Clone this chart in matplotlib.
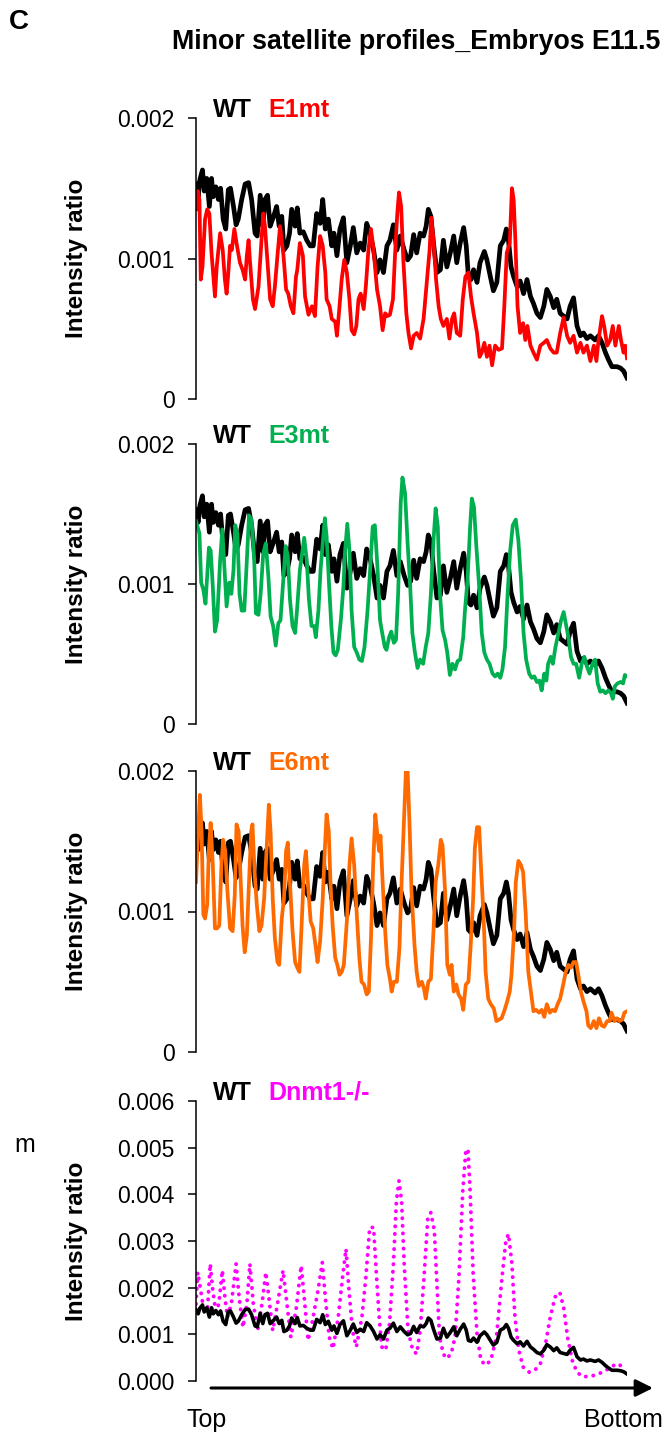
import numpy as np
import matplotlib
matplotlib.use("Agg")
import matplotlib.pyplot as plt

plt.rcParams["font.family"] = ["Liberation Sans", "DejaVu Sans"]

FIG_W, FIG_H = 671, 1447

# position along the profile (% of length from top) and intensity ratio (x 1e-3)
wt_pos = [0, 0.5, 0.9, 1.5, 1.9, 2.5, 3.1, 3.6, 4.0, 4.6,
          5.2, 5.7, 6.3, 6.9, 7.5, 8.0, 8.7, 9.3, 9.8, 10.6,
          11.4, 12.2, 12.9, 13.7, 14.2, 14.9, 15.5, 16.0, 16.6, 17.2,
          18.0, 18.7, 19.3, 19.9, 20.4, 21.1, 21.7, 22.2, 23.0, 23.5,
          24.1, 24.9, 25.7, 26.5, 27.2, 28.0, 28.8, 29.4, 30.0, 30.7,
          31.5, 32.0, 32.7, 33.4, 34.2, 35.0, 35.8, 36.5, 37.3, 38.1,
          38.9, 39.6, 40.4, 41.2, 42.0, 42.7, 43.5, 44.3, 45.0, 45.8,
          46.6, 47.4, 48.3, 49.1, 49.8, 50.5, 51.2, 52.0, 52.8, 53.4,
          53.9, 54.5, 55.1, 55.9, 56.7, 57.4, 58.2, 59.0, 59.8, 60.5,
          61.3, 62.1, 62.7, 63.2, 63.8, 64.4, 65.2, 65.9, 66.9, 67.5,
          68.3, 69.0, 69.8, 70.6, 71.4, 72.0, 72.5, 73.1, 73.7, 74.5,
          75.2, 76.0, 76.8, 77.6, 78.3, 79.1, 79.9, 80.7, 81.4, 82.2,
          83.0, 83.7, 84.5, 85.3, 86.1, 86.8, 87.6, 88.4, 89.2, 89.9,
          90.7, 91.5, 92.6, 93.4, 94.2, 95.0, 95.7, 96.5, 97.7, 98.5,
          99.2, 100]
wt_val = [1.53, 1.44, 1.56, 1.63, 1.48, 1.57, 1.37, 1.57, 1.44, 1.51,
          1.42, 1.50, 1.28, 1.21, 1.49, 1.50, 1.37, 1.24, 1.28, 1.42,
          1.53, 1.54, 1.42, 1.18, 1.16, 1.45, 1.23, 1.42, 1.45, 1.23,
          1.30, 1.37, 1.23, 1.30, 1.06, 1.09, 1.18, 1.35, 1.23, 1.36,
          1.18, 1.19, 1.13, 1.09, 1.09, 1.32, 1.25, 1.42, 1.21, 1.28,
          1.09, 1.18, 1.02, 1.21, 1.29, 0.97, 1.09, 1.22, 1.04, 1.11,
          1.06, 1.25, 1.18, 1.06, 0.90, 0.99, 0.90, 1.09, 1.13, 1.24,
          1.06, 1.16, 1.06, 0.99, 1.02, 1.17, 1.04, 1.18, 1.16, 1.23,
          1.35, 1.30, 1.11, 0.90, 0.92, 1.13, 0.94, 1.04, 1.16, 0.97,
          1.11, 1.22, 1.09, 0.87, 0.85, 0.92, 0.83, 0.97, 1.05, 0.99,
          0.87, 0.77, 0.83, 1.09, 1.13, 1.21, 1.13, 0.94, 0.87, 0.80,
          0.84, 0.75, 0.85, 0.73, 0.68, 0.61, 0.58, 0.66, 0.78, 0.73,
          0.65, 0.71, 0.61, 0.59, 0.57, 0.66, 0.72, 0.52, 0.45, 0.47,
          0.43, 0.45, 0.42, 0.45, 0.40, 0.33, 0.28, 0.23, 0.23, 0.22,
          0.20, 0.15]

e1_pos = [0, 0.4, 0.8, 1.1, 1.5, 2.1, 2.6, 3.1, 3.6, 4.4,
          4.8, 5.6, 6.2, 6.7, 7.1, 7.5, 7.9, 8.3, 8.9, 9.4,
          10.2, 10.8, 11.4, 11.8, 12.2, 12.5, 13.2, 13.7, 14.5, 14.9,
          15.6, 16.0, 16.6, 17.2, 17.8, 18.3, 18.9, 19.5, 20.3, 20.9,
          21.4, 22.0, 22.6, 23.2, 23.5, 24.1, 24.8, 25.3, 26.1, 26.9,
          27.6, 28.2, 28.8, 29.4, 30.0, 30.3, 31.0, 31.5, 32.3, 32.7,
          33.3, 33.8, 34.4, 35.0, 35.6, 36.1, 36.7, 37.2, 37.7, 38.2,
          38.9, 39.4, 40.0, 40.6, 41.2, 42.0, 42.7, 43.3, 43.9, 44.4,
          45.0, 45.7, 46.2, 46.7, 47.1, 47.6, 48.1, 48.8, 49.3, 49.9,
          50.5, 51.2, 52.0, 52.8, 53.6, 54.2, 54.6, 55.1, 55.7, 56.3,
          56.8, 57.4, 58.2, 58.8, 59.4, 59.9, 60.5, 61.3, 61.9, 62.5,
          63.2, 63.8, 64.4, 65.2, 65.8, 66.3, 66.9, 67.5, 68.1, 68.7,
          69.4, 70.2, 71.0, 71.5, 72.1, 72.8, 73.3, 73.7, 74.1, 74.6,
          75.2, 75.9, 76.4, 76.9, 77.6, 78.3, 79.1, 79.9, 80.7, 81.4,
          82.2, 83.0, 83.7, 84.5, 85.3, 86.1, 86.8, 87.6, 88.4, 89.2,
          89.9, 90.7, 91.5, 92.3, 92.9, 93.4, 94.2, 94.7, 95.4, 96.1,
          96.7, 97.3, 98.1, 98.6, 99.2, 99.6, 100]
e1_val = [1.35, 1.48, 1.42, 0.85, 0.94, 1.28, 1.35, 1.32, 1.04, 0.73,
          0.94, 1.18, 1.06, 0.85, 0.75, 0.90, 1.09, 1.06, 1.21, 1.11,
          0.97, 0.92, 0.85, 1.02, 1.13, 0.99, 0.71, 0.64, 0.80, 0.99,
          1.32, 1.23, 0.97, 0.71, 0.66, 0.80, 1.02, 1.23, 1.02, 0.78,
          0.75, 0.66, 0.61, 0.87, 0.92, 1.11, 1.02, 0.73, 0.60, 0.66,
          0.59, 0.94, 1.16, 1.09, 0.90, 0.71, 0.66, 0.57, 0.55, 0.45,
          0.66, 0.85, 0.99, 0.90, 0.71, 0.49, 0.46, 0.52, 0.71, 0.75,
          0.64, 0.80, 1.06, 1.21, 1.06, 0.78, 0.66, 0.49, 0.61, 0.59,
          0.60, 0.71, 1.04, 1.32, 1.47, 1.37, 0.99, 0.61, 0.47, 0.36,
          0.45, 0.47, 0.43, 0.57, 0.85, 1.06, 1.29, 1.13, 0.85, 0.66,
          0.57, 0.52, 0.57, 0.43, 0.57, 0.61, 0.47, 0.45, 0.71, 0.87,
          0.90, 0.73, 0.61, 0.47, 0.30, 0.33, 0.40, 0.30, 0.38, 0.24,
          0.38, 0.35, 0.36, 0.64, 1.04, 1.11, 1.50, 1.42, 1.13, 0.66,
          0.47, 0.54, 0.42, 0.52, 0.38, 0.33, 0.28, 0.38, 0.40, 0.42,
          0.36, 0.33, 0.33, 0.47, 0.58, 0.45, 0.40, 0.45, 0.33, 0.40,
          0.33, 0.38, 0.27, 0.38, 0.27, 0.42, 0.59, 0.52, 0.38, 0.42,
          0.52, 0.38, 0.52, 0.42, 0.33, 0.38, 0.29]

e3_pos = [0, 0.8, 1.2, 1.7, 2.2, 3.0, 3.4, 3.9, 4.4, 4.9,
          5.6, 6.1, 6.6, 7.1, 7.7, 8.2, 8.7, 9.1, 9.6, 10.1,
          10.6, 11.2, 11.8, 12.3, 12.9, 13.5, 13.9, 14.5, 15.0, 15.6,
          16.2, 16.8, 17.3, 17.9, 18.5, 19.1, 19.6, 20.3, 20.8, 21.3,
          21.8, 22.4, 23.0, 23.5, 24.1, 24.7, 25.1, 25.7, 26.2, 26.8,
          27.4, 27.8, 28.4, 28.9, 29.4, 29.9, 30.3, 30.9, 31.4, 31.9,
          32.4, 32.9, 33.6, 34.2, 34.6, 35.1, 35.6, 36.1, 36.7, 37.3,
          37.9, 38.5, 39.1, 39.8, 40.4, 41.0, 41.5, 42.1, 42.7, 43.2,
          43.8, 44.2, 44.8, 45.3, 45.9, 46.4, 46.9, 47.5, 47.9, 48.5,
          49.1, 49.7, 50.2, 50.8, 51.4, 52.0, 52.7, 53.3, 53.9, 54.5,
          55.1, 55.6, 56.1, 56.6, 57.2, 57.8, 58.3, 58.9, 59.5, 60.1,
          60.7, 61.3, 62.0, 62.4, 63.0, 63.6, 64.0, 64.5, 65.0, 65.7,
          66.3, 66.9, 67.5, 68.1, 68.8, 69.4, 70.0, 70.6, 71.1, 71.7,
          72.3, 72.9, 73.5, 74.2, 74.8, 75.4, 76.0, 76.6, 77.3, 77.9,
          78.5, 79.1, 79.7, 80.2, 80.8, 81.3, 81.7, 82.3, 82.8, 83.4,
          84.1, 84.7, 85.3, 85.8, 86.4, 87.0, 87.6, 88.2, 88.9, 89.5,
          90.1, 90.7, 91.3, 92.0, 92.6, 93.2, 93.8, 94.4, 95.0, 95.7,
          96.3, 96.7, 97.2, 97.8, 98.5, 99.1, 99.5, 100]
e3_val = [1.45, 1.36, 1.01, 0.96, 0.86, 1.26, 1.24, 0.98, 0.66, 0.74,
          1.17, 1.39, 1.12, 0.84, 1.01, 0.93, 1.10, 1.42, 1.36, 0.93,
          0.81, 0.81, 1.17, 1.49, 1.46, 1.17, 0.79, 0.78, 0.93, 1.22,
          1.29, 1.05, 0.77, 0.70, 0.56, 0.72, 0.74, 1.05, 1.27, 1.20,
          0.89, 0.70, 0.65, 0.84, 1.10, 1.24, 1.33, 1.17, 0.89, 0.70,
          0.70, 0.62, 0.81, 1.10, 1.29, 1.47, 1.34, 0.98, 0.70, 0.51,
          0.49, 0.53, 0.74, 0.98, 1.24, 1.43, 1.24, 0.81, 0.55, 0.51,
          0.46, 0.45, 0.55, 0.81, 1.10, 1.41, 1.42, 1.12, 0.74, 0.65,
          0.55, 0.53, 0.62, 0.66, 0.58, 0.60, 0.93, 1.58, 1.76, 1.65,
          1.29, 0.98, 0.65, 0.51, 0.40, 0.46, 0.43, 0.55, 0.65, 0.93,
          1.31, 1.54, 1.41, 0.93, 0.67, 0.60, 0.51, 0.35, 0.43, 0.39,
          0.45, 0.46, 0.62, 0.81, 1.03, 1.41, 1.61, 1.55, 1.29, 0.98,
          0.65, 0.51, 0.46, 0.43, 0.36, 0.34, 0.36, 0.33, 0.39, 0.55,
          0.93, 1.24, 1.42, 1.46, 1.31, 1.03, 0.65, 0.46, 0.36, 0.33,
          0.34, 0.30, 0.31, 0.24, 0.36, 0.31, 0.43, 0.48, 0.43, 0.55,
          0.65, 0.74, 0.80, 0.72, 0.62, 0.48, 0.43, 0.43, 0.33, 0.43,
          0.48, 0.41, 0.36, 0.43, 0.46, 0.29, 0.23, 0.24, 0.22, 0.24,
          0.22, 0.18, 0.27, 0.29, 0.30, 0.29, 0.35, 0.34]

e6_pos = [0, 0.5, 0.9, 1.3, 1.7, 2.1, 2.6, 3.0, 3.4, 3.9,
          4.4, 4.9, 5.4, 5.9, 6.3, 6.8, 7.3, 7.9, 8.5, 9.0,
          9.4, 9.9, 10.4, 10.8, 11.3, 11.8, 12.3, 12.8, 13.1, 13.6,
          14.1, 14.7, 15.2, 15.8, 16.4, 16.9, 17.3, 17.8, 18.3, 18.9,
          19.3, 19.9, 20.4, 20.9, 21.3, 21.8, 22.4, 23.0, 23.5, 24.0,
          24.5, 25.1, 25.5, 26.1, 26.6, 27.2, 27.8, 28.2, 28.8, 29.4,
          29.9, 30.3, 30.8, 31.2, 31.7, 32.3, 32.8, 33.3, 33.8, 34.3,
          35.0, 35.6, 36.1, 36.7, 37.3, 37.9, 38.4, 39.0, 39.6, 40.1,
          40.6, 41.1, 41.6, 42.1, 42.5, 42.8, 43.3, 43.9, 44.4, 45.0,
          45.4, 45.9, 46.6, 47.2, 47.7, 48.3, 48.7, 49.1, 49.6, 50.0,
          50.7, 51.2, 51.7, 52.4, 52.9, 53.3, 53.9, 54.5, 55.1, 55.6,
          56.2, 56.8, 57.2, 57.8, 58.3, 58.9, 59.3, 59.8, 60.4, 60.9,
          61.5, 62.0, 62.6, 63.2, 63.7, 64.3, 64.7, 65.2, 65.7, 66.1,
          66.7, 67.2, 67.8, 68.4, 69.1, 69.7, 70.3, 70.9, 71.5, 72.2,
          72.8, 73.2, 73.8, 74.2, 74.8, 75.4, 75.9, 76.5, 77.1, 77.7,
          78.3, 78.9, 79.6, 80.2, 80.8, 81.4, 82.1, 82.7, 83.3, 83.9,
          84.5, 85.2, 85.8, 86.4, 87.0, 87.6, 88.2, 88.7, 89.3, 89.9,
          90.6, 91.0, 91.6, 92.3, 92.9, 93.5, 94.1, 94.7, 95.4, 96.0,
          96.4, 97.1, 97.7, 98.3, 98.9, 99.4, 100]
e6_val = [1.21, 1.57, 1.83, 1.57, 0.98, 0.95, 1.05, 1.45, 1.63, 1.33,
          0.88, 0.88, 0.90, 1.33, 1.51, 1.43, 1.14, 0.88, 0.86, 1.12,
          1.62, 1.57, 1.19, 0.90, 0.71, 0.83, 1.21, 1.57, 1.62, 1.28,
          1.05, 0.86, 0.90, 1.09, 1.45, 1.76, 1.57, 1.09, 0.81, 0.64,
          0.62, 0.95, 1.09, 1.43, 1.49, 1.21, 0.86, 0.64, 0.60, 0.57,
          0.90, 1.33, 1.43, 1.14, 0.93, 0.88, 0.74, 0.64, 0.79, 1.09,
          1.45, 1.69, 1.57, 1.21, 0.90, 0.67, 0.62, 0.55, 0.57, 0.62,
          0.93, 1.33, 1.52, 1.33, 0.98, 0.67, 0.50, 0.48, 0.41, 0.43,
          0.81, 1.33, 1.69, 1.54, 1.43, 1.54, 1.21, 0.86, 0.62, 0.52,
          0.43, 0.50, 0.50, 0.74, 1.21, 1.69, 2.00, 2.00, 1.57, 1.14,
          0.76, 0.57, 0.47, 0.50, 0.45, 0.38, 0.50, 0.52, 0.86, 1.21,
          1.33, 1.51, 1.47, 1.14, 0.62, 0.55, 0.62, 0.43, 0.48, 0.41,
          0.38, 0.30, 0.48, 0.50, 0.74, 1.09, 1.45, 1.60, 1.60, 1.33,
          0.98, 0.57, 0.38, 0.34, 0.31, 0.22, 0.23, 0.24, 0.29, 0.36,
          0.43, 0.55, 0.86, 1.21, 1.36, 1.33, 1.28, 0.98, 0.57, 0.43,
          0.29, 0.30, 0.28, 0.30, 0.25, 0.34, 0.28, 0.30, 0.29, 0.34,
          0.38, 0.48, 0.57, 0.62, 0.60, 0.64, 0.64, 0.55, 0.43, 0.36,
          0.29, 0.19, 0.17, 0.22, 0.17, 0.24, 0.19, 0.18, 0.22, 0.22,
          0.28, 0.22, 0.24, 0.22, 0.23, 0.28, 0.29]

dn_pos = [0, 0.4, 1.1, 1.8, 2.7, 3.3, 3.9, 4.6, 5.3, 6.1,
          6.7, 7.3, 8.2, 9.3, 10.0, 10.9, 11.8, 12.5, 13.3, 14.3,
          15.3, 16.2, 16.9, 17.8, 18.9, 20.2, 21.1, 22.0, 23.2, 24.4,
          25.1, 26.0, 26.9, 28.3, 29.3, 30.0, 30.9, 31.8, 33.0, 34.0,
          34.8, 35.5, 36.3, 37.2, 38.5, 39.4, 40.3, 41.2, 41.9, 42.5,
          43.1, 44.0, 44.9, 45.8, 46.5, 47.1, 47.7, 48.3, 49.2, 50.3,
          51.2, 52.0, 52.9, 53.8, 54.5, 55.3, 55.9, 56.5, 57.4, 58.1,
          59.2, 60.1, 61.0, 61.9, 62.6, 63.1, 63.6, 64.3, 65.2, 66.1,
          67.2, 68.4, 69.7, 71.0, 71.9, 72.5, 73.3, 74.0, 74.9, 75.9,
          77.3, 78.6, 79.9, 81.1, 82.2, 83.3, 84.4, 85.3, 86.2, 87.3,
          88.4, 89.7, 91.1, 92.4, 93.8, 95.1, 96.4, 97.5, 98.4, 99.1]
dn_val = [1.65, 2.33, 1.94, 1.51, 1.58, 2.51, 1.94, 1.48, 1.65, 2.37,
          1.80, 1.37, 1.65, 2.51, 1.80, 1.15, 1.65, 2.51, 1.65, 1.08,
          1.65, 2.33, 1.80, 1.08, 1.65, 2.37, 1.65, 0.94, 1.51, 2.47,
          1.80, 0.87, 1.23, 1.94, 2.54, 1.80, 0.94, 0.69, 1.37, 2.22,
          2.83, 1.94, 1.08, 0.73, 1.37, 2.22, 3.29, 3.29, 2.22, 1.37,
          0.73, 0.66, 1.23, 2.51, 3.86, 4.29, 3.86, 2.51, 1.08, 0.66,
          0.58, 1.08, 2.22, 3.51, 3.61, 3.22, 2.08, 0.94, 0.58, 0.48,
          0.58, 0.94, 2.22, 4.08, 4.93, 4.97, 4.08, 2.30, 1.01, 0.44,
          0.34, 0.44, 0.94, 2.22, 3.01, 3.15, 2.51, 1.37, 0.66, 0.30,
          0.19, 0.23, 0.37, 0.80, 1.37, 1.80, 1.90, 1.58, 0.94, 0.44,
          0.19, 0.09, 0.10, 0.12, 0.17, 0.23, 0.30, 0.37, 0.34, 0.23]

TICKS_LOW = [0, 0.001, 0.002]
TICKLABELS_LOW = ["0", "0.001", "0.002"]
TICKS_HIGH = [0, 0.001, 0.002, 0.003, 0.004, 0.005, 0.006]
TICKLABELS_HIGH = ["0.000", "0.001", "0.002", "0.003", "0.004", "0.005", "0.006"]


def fx(x):
    return x / FIG_W


def fy(y):
    return 1 - y / FIG_H


def make_panel(fig, top, bottom, ticks, ticklabels):
    ax = fig.add_axes([fx(196), fy(bottom), fx(431), (bottom - top) / FIG_H])
    ax.set_xlim(0, 100)
    ax.set_ylim(ticks[0], ticks[-1])
    for side in ["top", "right", "bottom"]:
        ax.spines[side].set_visible(False)
    ax.spines["left"].set_linewidth(1.1)
    ax.set_xticks([])
    ax.set_yticks(ticks)
    ax.set_yticklabels(ticklabels)
    ax.tick_params(axis="y", direction="out", length=5.5, width=1.1,
                   pad=10, labelsize=16.5)
    fig.text(fx(76), fy((top + bottom) / 2), "Intensity ratio", rotation=90,
             ha="center", va="center", fontsize=17.5, fontweight="bold")
    return ax


def label_panel(fig, top, name, color):
    fig.text(fx(213), fy(top - 1), "WT", ha="left", va="baseline",
             fontsize=18, fontweight="bold", color="black")
    fig.text(fx(268), fy(top - 1), name, ha="left", va="baseline",
             fontsize=18, fontweight="bold", color=color)


def main():
    fig = plt.figure(figsize=(FIG_W / 100, FIG_H / 100), dpi=100)
    wt_x = np.array(wt_pos)
    wt_y = np.array(wt_val) * 1e-3

    mutants = [
        ("E1mt", "#FF0000", e1_pos, e1_val, 118, 399),
        ("E3mt", "#00B050", e3_pos, e3_val, 444, 724),
        ("E6mt", "#FF6A00", e6_pos, e6_val, 771, 1052),
    ]
    for name, color, pos, val, top, bottom in mutants:
        ax = make_panel(fig, top, bottom, TICKS_LOW, TICKLABELS_LOW)
        ax.plot(wt_x, wt_y, color="black", lw=3.4, solid_joinstyle="round")
        ax.plot(pos, np.array(val) * 1e-3, color=color, lw=2.7,
                solid_joinstyle="round")
        label_panel(fig, top, name, color)

    # Dnmt1-/- panel with its own scale
    ax = make_panel(fig, 1101, 1381, TICKS_HIGH, TICKLABELS_HIGH)
    ax.plot(dn_pos, np.array(dn_val) * 1e-3, color="#FF00FF", lw=2.8,
            linestyle=(0, (0.05, 1.9)), dash_capstyle="round")
    ax.plot(wt_x, wt_y, color="black", lw=2.6, solid_joinstyle="round")
    label_panel(fig, 1101, "Dnmt1-/-", "#FF00FF")

    ax.annotate("", xy=(fx(653), fy(1388)), xytext=(fx(211), fy(1388)),
                xycoords="figure fraction", textcoords="figure fraction",
                arrowprops=dict(arrowstyle="-|>", lw=2.2, color="black",
                                mutation_scale=26, shrinkA=0, shrinkB=0))
    fig.text(fx(187), fy(1420), "Top", ha="left", va="center", fontsize=18)
    fig.text(fx(663), fy(1420), "Bottom", ha="right", va="center", fontsize=18)

    fig.text(fx(9), fy(22), "C", ha="left", va="center", fontsize=20,
             fontweight="bold")
    fig.text(fx(416), fy(42), "Minor satellite profiles_Embryos E11.5",
             ha="center", va="center", fontsize=19.3, fontweight="bold")
    fig.text(fx(14), fy(1145), "m", ha="left", va="center", fontsize=18)

    fig.savefig("out.png", dpi=100)


if __name__ == "__main__":
    main()
